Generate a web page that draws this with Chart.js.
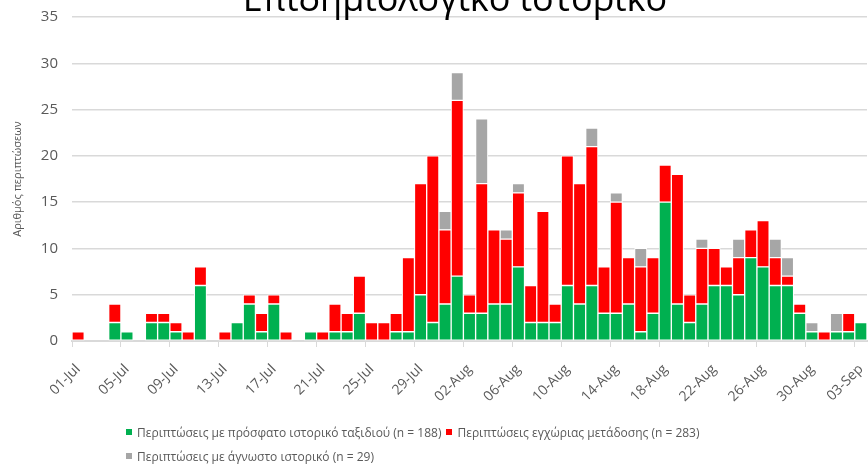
<!DOCTYPE html>
<html>
<head>
<meta charset="utf-8">
<script src="https://cdn.jsdelivr.net/npm/chart.js@4"></script>
<style>
    body { margin: 0; background: #fff; }
    #wrap { position: relative; width: 868px; height: 464px; overflow: hidden; }
    #legend { position: absolute; left: 126px; top: 422px; font: 12px "Open Sans", sans-serif; color: #595959; }
    .row { display: flex; align-items: center; height: 20px; margin-bottom: 4px; }
    .sw { display: inline-block; width: 6px; height: 6px; margin-right: 5px; }
    .item { display: flex; align-items: center; margin-right: 5px; }
</style>
</head>
<body>
<div id="wrap">
    <canvas id="chartHistorico" width="868" height="464"></canvas>
    <div id="legend"></div>
</div>
<script>
const labels = [
    '01-Jul', '02-Jul', '03-Jul', '04-Jul', '05-Jul', '06-Jul', '07-Jul', '08-Jul', '09-Jul', '10-Jul',
    '11-Jul', '12-Jul', '13-Jul', '14-Jul', '15-Jul', '16-Jul', '17-Jul', '18-Jul', '19-Jul', '20-Jul',
    '21-Jul', '22-Jul', '23-Jul', '24-Jul', '25-Jul', '26-Jul', '27-Jul', '28-Jul', '29-Jul', '30-Jul',
    '31-Jul', '01-Aug', '02-Aug', '03-Aug', '04-Aug', '05-Aug', '06-Aug', '07-Aug', '08-Aug', '09-Aug',
    '10-Aug', '11-Aug', '12-Aug', '13-Aug', '14-Aug', '15-Aug', '16-Aug', '17-Aug', '18-Aug', '19-Aug',
    '20-Aug', '21-Aug', '22-Aug', '23-Aug', '24-Aug', '25-Aug', '26-Aug', '27-Aug', '28-Aug', '29-Aug',
    '30-Aug', '31-Aug', '01-Sep', '02-Sep', '03-Sep'
];

// ταξίδι (n = 188)
const travelCases = [
    0, 0, 0, 2, 1, 0, 2, 2, 1, 0,
    6, 0, 0, 2, 4, 1, 4, 0, 0, 1,
    0, 1, 1, 3, 0, 0, 1, 1, 5, 2,
    4, 7, 3, 3, 4, 4, 8, 2, 2, 2,
    6, 4, 6, 3, 3, 4, 1, 3, 15, 4,
    2, 4, 6, 6, 5, 9, 8, 6, 6, 3,
    1, 0, 1, 1, 2
];

// εγχώρια μετάδοση (n = 283)
const localCases = [
    1, 0, 0, 2, 0, 0, 1, 1, 1, 1,
    2, 0, 1, 0, 1, 2, 1, 1, 0, 0,
    1, 3, 2, 4, 2, 2, 2, 8, 12, 18,
    8, 19, 2, 14, 8, 7, 8, 4, 12, 2,
    14, 13, 15, 5, 12, 5, 7, 6, 4, 14,
    3, 6, 4, 2, 4, 3, 5, 3, 1, 1,
    0, 1, 0, 2, 0
];

// άγνωστο (n = 29)
const unknownCases = [
    0, 0, 0, 0, 0, 0, 0, 0, 0, 0,
    0, 0, 0, 0, 0, 0, 0, 0, 0, 0,
    0, 0, 0, 0, 0, 0, 0, 0, 0, 0,
    2, 3, 0, 7, 0, 1, 1, 0, 0, 0,
    0, 0, 2, 0, 1, 0, 2, 0, 0, 0,
    0, 1, 0, 0, 2, 0, 0, 2, 2, 0,
    1, 0, 2, 0, 0
];

const yTicks = [0, 5, 10, 15, 20, 25, 30, 35];

const seriesNames = [
    'Περιπτώσεις με πρόσφατο ιστορικό ταξιδιού (n = 188)',
    'Περιπτώσεις εγχώριας μετάδοσης (n = 283)',
    'Περιπτώσεις με άγνωστο ιστορικό (n = 29)'
];
const seriesColors = ['#00b050', '#ff0000', '#a6a6a6'];

const FONT = '"Open Sans", sans-serif';
const GREY_TEXT = '#595959';

// ο τίτλος είναι κομμένος στο πάνω μέρος
const titlePlugin = {
    id: 'croppedTitle',
    afterDraw: (chart) => {
        const ctx = chart.ctx;
        ctx.save();
        ctx.font = '36px "Open Sans", sans-serif';
        ctx.fillStyle = '#000';
        ctx.textAlign = 'center';
        ctx.textBaseline = 'alphabetic';
        ctx.fillText('Επιδημιολογικό ιστορικό', 455, 11);
        ctx.restore();
    }
};

const buildLegend = () => {
    const legend = document.getElementById('legend');
    const rows = [[0, 1], [2]];
    rows.forEach((row) => {
        const rowEl = document.createElement('div');
        rowEl.className = 'row';
        row.forEach((i) => {
            const item = document.createElement('span');
            item.className = 'item';
            item.innerHTML = `<span class="sw" style="background:${seriesColors[i]}"></span>${seriesNames[i]}`;
            rowEl.appendChild(item);
        });
        legend.appendChild(rowEl);
    });
};

const buildChart = () => {
    const canvas = document.getElementById('chartHistorico');
    const datasets = [travelCases, localCases, unknownCases].map((values, i) => ({
        label: seriesNames[i],
        data: values,
        backgroundColor: seriesColors[i],
        borderColor: '#ffffff',
        borderWidth: 1,
        borderSkipped: false,
        barPercentage: 1,
        categoryPercentage: 1
    }));

    new Chart(canvas.getContext('2d'), {
        type: 'bar',
        data: { labels, datasets },
        plugins: [titlePlugin],
        options: {
            responsive: false,
            animation: false,
            layout: { padding: { top: 17, right: 1, left: 0, bottom: 60 } },
            plugins: {
                legend: { display: false },
                tooltip: { enabled: false }
            },
            scales: {
                x: {
                    stacked: true,
                    offset: true,
                    grid: {
                        offset: true,
                        drawOnChartArea: false,
                        tickLength: 6,
                        color: (c) => (c.index % 4 === 0 ? '#d9d9d9' : 'rgba(0,0,0,0)'),
                        lineWidth: 1
                    },
                    border: { color: '#d9d9d9', width: 2 },
                    ticks: {
                        autoSkip: false,
                        maxRotation: 45,
                        minRotation: 45,
                        padding: 14,
                        color: GREY_TEXT,
                        font: { family: FONT, size: 14 },
                        callback: (value, index) => (index % 4 === 0 ? labels[index] : '')
                    },
                    afterFit: (scale) => {
                        scale.height = 63;
                        scale.paddingLeft = 0;
                        scale.paddingRight = 0;
                    }
                },
                y: {
                    stacked: true,
                    min: 0,
                    max: 35,
                    grid: { color: '#d9d9d9', lineWidth: 1.5, drawTicks: false },
                    border: { display: false },
                    afterBuildTicks: (scale) => {
                        scale.ticks = yTicks.map((v) => ({ value: v }));
                    },
                    ticks: {
                        padding: 14,
                        color: GREY_TEXT,
                        font: { family: FONT, size: 15 }
                    },
                    title: {
                        display: true,
                        text: 'Αριθμός περιπτώσεων',
                        color: GREY_TEXT,
                        font: { family: FONT, size: 11 },
                        padding: { top: 11, bottom: 0 }
                    },
                    afterFit: (scale) => {
                        scale.width = 72;
                        scale.paddingTop = 0;
                        scale.paddingBottom = 0;
                    }
                }
            }
        }
    });
};

buildLegend();
buildChart();
</script>
</body>
</html>
